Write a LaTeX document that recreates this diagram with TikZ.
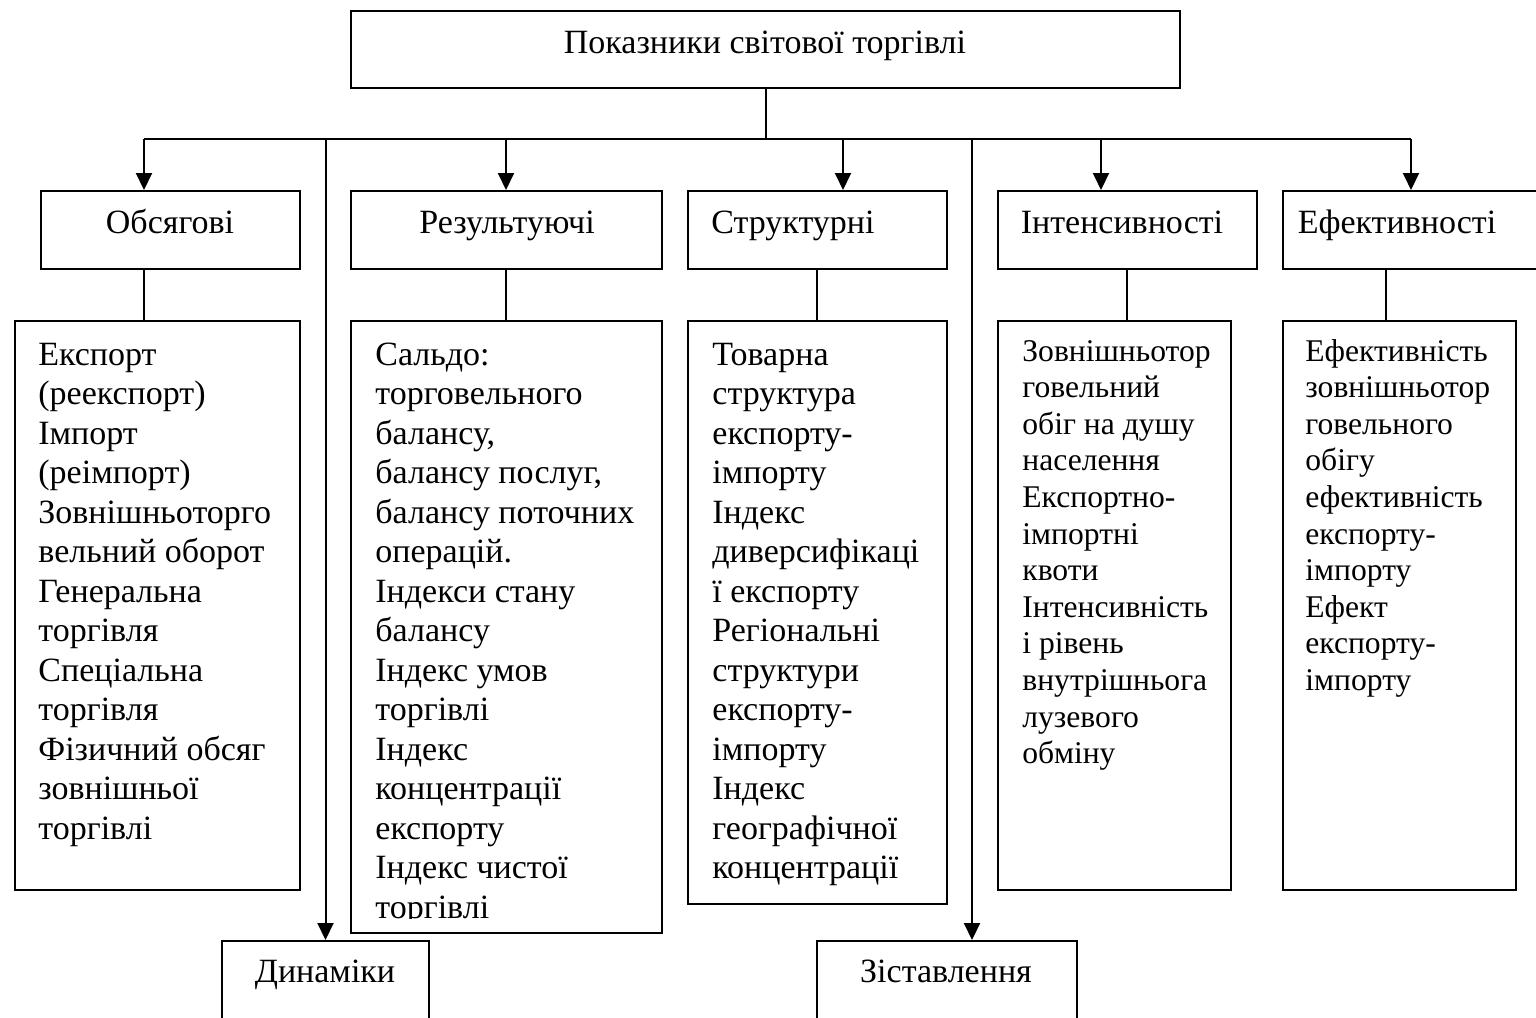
\documentclass[tikz,border=0pt]{standalone}
\usepackage{fontspec}
\setmainfont{Liberation Serif}
\usetikzlibrary{arrows.meta,calc}
\newcommand\linesof[1]{\vtop{\halign{##\hfil\cr#1\crcr}}}
\begin{document}
\begin{tikzpicture}[x=0.5pt,y=-0.5pt,
  box/.style={draw=black,line width=1pt,inner sep=0pt,anchor=north west},
  big/.style={font=\fontsize{17}{19.75}\selectfont,inner sep=0pt},
  small/.style={font=\fontsize{15.8}{18.3}\selectfont,inner sep=0pt},
  conn/.style={draw=black,line width=1pt},
  arr/.style={conn,-{Triangle[length=8.5pt,width=8pt]}}]
\useasboundingbox (0,0) rectangle (1536,1017);
\clip (0,0) rectangle (1536,1017);
% boxes
\node[box,minimum width=414.5pt,minimum height=38.5pt] (top) at (350,10) {};
\node[box,minimum width=129.5pt,minimum height=39pt] (obsH) at (40,190) {};
\node[box,minimum width=155.5pt,minimum height=39pt] (resH) at (350,190) {};
\node[box,minimum width=129.5pt,minimum height=39pt] (strH) at (687,190) {};
\node[box,minimum width=129.5pt,minimum height=39pt] (intH) at (997,190) {};
\node[box,minimum width=129.5pt,minimum height=39pt] (effH) at (1282,190) {};
\node[box,minimum width=142.5pt,minimum height=284.5pt] (obsD) at (14,320) {};
\node[box,minimum width=155.5pt,minimum height=306pt] (resD) at (350,320) {};
\node[box,minimum width=129.5pt,minimum height=291.5pt] (strD) at (687,320) {};
\node[box,minimum width=116.5pt,minimum height=284.5pt] (intD) at (997,320) {};
\node[box,minimum width=116.5pt,minimum height=284.5pt] (effD) at (1282,320) {};
\node[box,minimum width=103.5pt,minimum height=42pt] (dyn) at (221,940) {};
\node[box,minimum width=130pt,minimum height=42pt] (zis) at (816,940) {};
% titles
\node[big,anchor=base] (tTop) at (765,54) {Показники світової торгівлі};
\node[big,anchor=base] (tObs) at (170,233) {Обсягові};
\node[big,anchor=base] (tRes) at (507,233) {Результуючі};
\node[big,anchor=base west] (tStr) at (711,233) {Структурні};
\node[big,anchor=base] (tInt) at (1122,233) {Інтенсивності};
\node[big,anchor=base] (tEff) at (1397,233) {Ефективності};
\node[big,anchor=base] (tDyn) at (325,982) {Динаміки};
\node[big,anchor=base] (tZis) at (946,982) {Зіставлення};
% details
\node[big,anchor=base west] (dObs) at ($(obsD.north west)+(24,45)$) {\linesof{Експорт\cr (реекспорт)\cr Імпорт\cr (реімпорт)\cr Зовнішньоторго\cr вельний оборот\cr Генеральна\cr торгівля\cr Спеціальна\cr торгівля\cr Фізичний обсяг\cr зовнішньої\cr торгівлі}};
\begin{scope}
\clip (350,320) rectangle (661,918);
\node[big,anchor=base west] (dRes) at ($(resD.north west)+(25,45)$) {\linesof{Сальдо:\cr торговельного\cr балансу,\cr балансу послуг,\cr балансу поточних\cr операцій.\cr Індекси стану\cr балансу\cr Індекс умов\cr торгівлі\cr Індекс\cr концентрації\cr експорту\cr Індекс чистої\cr торгівлі}};
\end{scope}
\node[big,anchor=base west] (dStr) at ($(strD.north west)+(25,45)$) {\linesof{Товарна\cr структура\cr експорту-\cr імпорту\cr Індекс\cr диверсифікаці\cr ї експорту\cr Регіональні\cr структури\cr експорту-\cr імпорту\cr Індекс\cr географічної\cr концентрації}};
\node[small,anchor=base west] (dInt) at ($(intD.north west)+(25,41)$) {\linesof{Зовнішньотор\cr говельний\cr обіг на душу\cr населення\cr Експортно-\cr імпортні\cr квоти\cr Інтенсивність\cr і рівень\cr внутрішньога\cr лузевого\cr обміну}};
\node[small,anchor=base west] (dEff) at ($(effD.north west)+(23,41)$) {\linesof{Ефективність\cr зовнішньотор\cr говельного\cr обігу\cr ефективність\cr експорту-\cr імпорту\cr Ефект\cr експорту-\cr імпорту}};
% connector coordinates
\coordinate (bus) at (0,139);
\coordinate (aObs) at ([xshift=52pt]obsH.north west);
\coordinate (aRes) at ([xshift=78pt]resH.north west);
\coordinate (aStr) at ([xshift=78pt]strH.north west);
\coordinate (aInt) at ([xshift=52pt]intH.north west);
\coordinate (aEff) at ([xshift=64.5pt]effH.north west);
\coordinate (aZis) at ([xshift=12.5pt]zis.north);
\coordinate (cObs) at (144,0);
\coordinate (cRes) at (506,0);
\coordinate (cStr) at (817,0);
\coordinate (cInt) at (1127,0);
\coordinate (cEff) at (1386,0);
% connectors
\draw[conn] (top.south) -- (top.south |- bus);
\draw[conn] (aObs |- bus) -- (aEff |- bus);
\draw[arr] (aObs |- bus) -- (aObs);
\draw[arr] (aRes |- bus) -- (aRes);
\draw[arr] (aStr |- bus) -- (aStr);
\draw[arr] (aInt |- bus) -- (aInt);
\draw[arr] (aEff |- bus) -- (aEff);
\draw[arr] (dyn.north |- bus) -- (dyn.north);
\draw[arr] (aZis |- bus) -- (aZis);
\draw[conn] (obsH.south -| cObs) -- (obsD.north -| cObs);
\draw[conn] (resH.south -| cRes) -- (resD.north -| cRes);
\draw[conn] (strH.south -| cStr) -- (strD.north -| cStr);
\draw[conn] (intH.south -| cInt) -- (intD.north -| cInt);
\draw[conn] (effH.south -| cEff) -- (effD.north -| cEff);
\end{tikzpicture}
\end{document}
